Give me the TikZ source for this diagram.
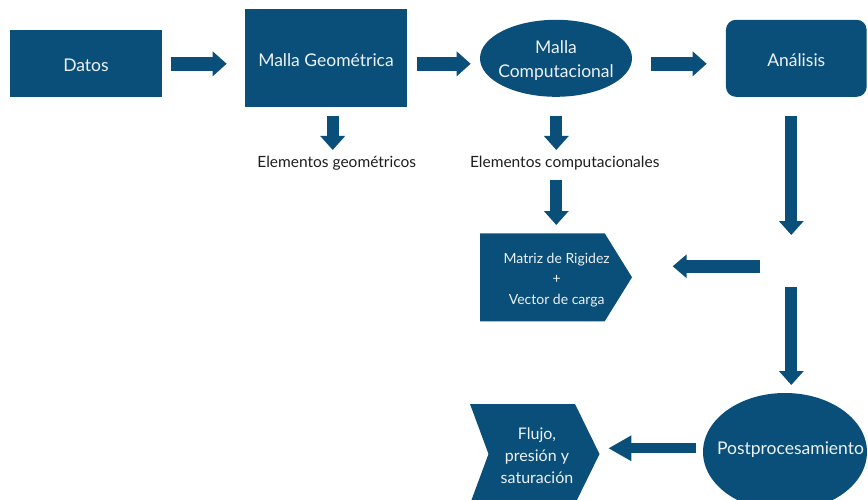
\documentclass[tikz,border=0pt]{standalone}
\usepackage{fontspec}
\setmainfont{Lato}
\usetikzlibrary{arrows.meta,shapes.geometric}
\definecolor{nav}{RGB}{10,79,121}
\definecolor{txtw}{RGB}{236,241,245}
\definecolor{lbk}{RGB}{30,30,30}
\begin{document}
\begin{tikzpicture}[x=1pt,y=-1pt,
  box/.style={fill=nav,inner sep=0pt},
  wtxt/.style={text=txtw,align=center,inner sep=0pt},
  big/.style={font=\fontsize{17.5}{23.7}\selectfont},
  hblk/.style={draw=nav,line width=14pt,-{Triangle[width=24pt,length=14pt]}},
  vblk/.style={draw=nav,line width=12pt,-{Triangle[width=24pt,length=14pt]}},
  lbl/.style={text=lbk,font=\fontsize{15.5}{18}\selectfont,inner sep=0pt}]
\useasboundingbox (0,0) rectangle (868,500);
% main boxes
\node[box,minimum width=152pt,minimum height=67pt] (datos) at (86,63.5) {};
\node[wtxt,big] (datost) at (86,65.5) {Datos};
\node[box,minimum width=162pt,minimum height=98pt] (geo) at (326,58.3) {};
\node[wtxt,big] (geot) at (326,60.3) {Malla Geométrica};
\node[box,ellipse,minimum width=152pt,minimum height=77pt] (comp) at (556,58.3) {};
\node[wtxt,big] (compt) at (556,60.3) {Malla\\Computacional};
\node[box,rounded corners=10pt,minimum width=140.7pt,minimum height=77pt] (anal) at (796.3,58.3) {};
\node[wtxt,big] (analt) at (796.3,60.3) {Análisis};
% labels
\node[lbl] (eg) at (336.7,163) {Elementos geométricos};
\node[lbl] (ec) at (564.7,163) {Elementos computacionales};
% matriz pentagon
\fill[nav] (480,233.3) coordinate (mtl) -- (604.7,233.3) -- (632,277.3) coordinate (mtip) -- (604.7,321.3) -- (480,321.3) -- cycle;
\node[wtxt,font=\fontsize{14}{20.5}\selectfont] (matriz) at (556.7,280) {Matriz de Rigidez\\+\\Vector de carga};
% post ellipse
\node[box,ellipse,minimum width=164pt,minimum height=118pt] (post) at (785,452) {};
\node[wtxt,big] (postt) at (790.5,450) {Postprocesamiento};
% flujo chevron
\fill[nav] (470,404) -- (575,404) -- (599.5,454) coordinate (ftip) -- (575,504) -- (470,504) -- (488.5,454) -- cycle;
\node[wtxt,font=\fontsize{16}{22}\selectfont] (flujo) at (537,456) {Flujo,\\presión y\\saturación};
% arrow endpoints
\coordinate (a1s) at (170.7,63.8); \coordinate (a1e) at (226.7,63.8);
\coordinate (a2s) at (416.7,63.8); \coordinate (a2e) at (470.7,63.8);
\coordinate (a3s) at (651.3,63.8); \coordinate (a3e) at (706.7,63.8);
\coordinate (d1s) at (332.7,116); \coordinate (d1e) at (332.7,150);
\coordinate (d2s) at (556.3,116); \coordinate (d2e) at (556.3,150);
\coordinate (d3s) at (556.3,180); \coordinate (d3e) at (556.3,225);
\coordinate (d4s) at (791.3,116); \coordinate (d4e) at (791.3,235);
\coordinate (l1s) at (760,266.3); \coordinate (l1e) at (672.7,266.3);
\coordinate (d5s) at (791.3,287.3); \coordinate (d5e) at (791.3,385);
\coordinate (l2s) at (696,448.3); \coordinate (l2e) at (608.3,448.3);
% arrows
\draw[hblk] (a1s) -- (a1e);
\draw[hblk] (a2s) -- (a2e);
\draw[hblk] (a3s) -- (a3e);
\draw[vblk] (d1s) -- (d1e);
\draw[vblk] (d2s) -- (d2e);
\draw[vblk] (d3s) -- (d3e);
\draw[vblk] (d4s) -- (d4e);
\draw[draw=nav,line width=12.5pt,-{Triangle[width=23pt,length=14pt]}] (l1s) -- (l1e);
\draw[vblk] (d5s) -- (d5e);
\draw[draw=nav,line width=10pt,-{Triangle[width=24pt,length=23pt]}] (l2s) -- (l2e);
\end{tikzpicture}
\end{document}
